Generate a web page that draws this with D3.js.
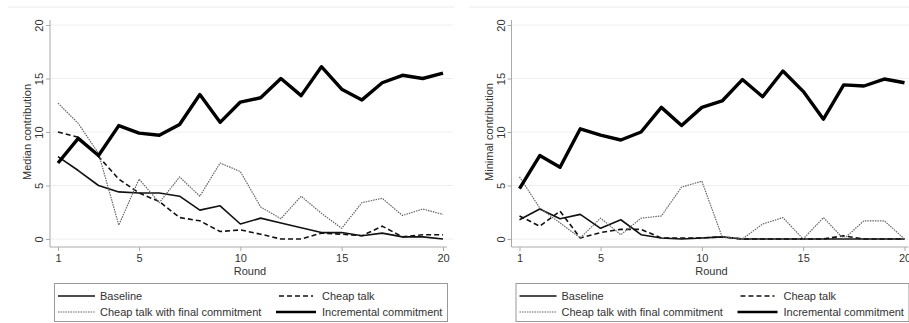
<!DOCTYPE html>
<html>
<head>
<meta charset="utf-8">
<script src="https://cdn.jsdelivr.net/npm/d3@7"></script>
<style>
  body { margin: 0; background: #fff; }
  svg text { font-family: "Liberation Sans", Arial, sans-serif; fill: #333; }
</style>
</head>
<body>
<svg id="chart" width="909" height="323"></svg>
<script>
const rounds = [1,2,3,4,5,6,7,8,9,10,11,12,13,14,15,16,17,18,19,20]
const xTicks = [1, 5, 10, 15, 20]
const yTicks = [0, 5, 10, 15, 20]

// left panel: median contribution
const medBaseline = [7.7,6.4,5.0,4.4,4.3,4.3,4.0,2.7,3.1,1.4,1.95,1.5,1.05,0.6,0.6,0.3,0.55,0.2,0.2,0.0]
const medCheap = [10.0,9.5,7.7,5.6,4.3,3.5,2.0,1.7,0.7,0.85,0.45,0.0,0.0,0.55,0.45,0.3,1.2,0.2,0.4,0.4]
const medFinal = [12.7,10.8,8.0,1.3,5.6,3.4,5.8,4.0,7.1,6.3,3.0,1.9,4.0,2.4,1.0,3.4,3.8,2.2,2.8,2.3]
const medIncr = [7.1,9.4,7.8,10.6,9.9,9.7,10.7,13.5,10.9,12.8,13.2,15.0,13.4,16.1,14.0,13.0,14.6,15.3,15.0,15.5]

// right panel: minimal contribution
const minBaseline = [1.8,2.8,1.9,2.3,1.0,1.8,0.4,0.1,0.0,0.1,0.2,0,0,0,0,0,0,0,0,0]
const minCheap = [2.15,1.2,2.6,0.1,0.6,0.9,0.9,0.1,0.1,0.1,0.2,0,0,0,0,0,0.3,0,0,0]
const minFinal = [5.8,2.9,1.5,0.1,1.95,0.4,1.95,2.15,4.85,5.4,0.2,0.0,1.4,2.0,0.0,2.0,0.0,1.7,1.7,0.0]
const minIncr = [4.7,7.8,6.7,10.3,9.7,9.25,10.0,12.3,10.6,12.3,12.9,14.9,13.3,15.7,13.8,11.2,14.4,14.3,14.95,14.6]

const seriesNames = ["Baseline", "Cheap talk", "Cheap talk with final commitment", "Incremental commitment"]
const styles = {
  "Baseline": {stroke: "#111", width: 1.6, dash: null},
  "Cheap talk": {stroke: "#111", width: 1.6, dash: "5,3"},
  "Cheap talk with final commitment": {stroke: "#666", width: 1.2, dash: "1.5,1"},
  "Incremental commitment": {stroke: "#000", width: 3.4, dash: null}
}

const svg = d3.select('#chart')

function drawPanel(offsetX, values, yLabel) {
  const g = svg.append('g').attr('transform', `translate(${offsetX},0)`)

  const x = d3.scaleLinear().domain([1, 20]).range([58, 443])
  const y = d3.scaleLinear().domain([0, 20]).range([239, 25])

  // graph region top edge
  g.append('line')
    .attr('x1', 8).attr('x2', 454).attr('y1', 7).attr('y2', 7)
    .attr('stroke', '#eaeaea')

  // grid
  g.selectAll('.grid')
    .data(yTicks)
    .enter()
    .append('line')
    .attr('x1', 50).attr('x2', 453)
    .attr('y1', d => y(d)).attr('y2', d => y(d))
    .attr('stroke', '#eeeeee')

  // y axis
  const yAxis = g.append('g')
    .attr('transform', 'translate(50,0)')
    .call(d3.axisLeft(y).tickValues(yTicks).tickSize(4).tickPadding(4))
  yAxis.select('.domain').attr('d', 'M0,20V247').attr('stroke', '#aaa')
  yAxis.selectAll('.tick line').attr('stroke', '#aaa')
  yAxis.selectAll('.tick text')
    .attr('x', null).attr('dy', null)
    .attr('transform', 'translate(-7,0) rotate(-90)')
    .attr('text-anchor', 'middle')
    .style('font-size', '11px')

  // x axis
  const xAxis = g.append('g')
    .attr('transform', 'translate(0,247)')
    .call(d3.axisBottom(x).tickValues(xTicks).tickSize(4).tickPadding(3))
  xAxis.select('.domain').attr('d', 'M50,0H447').attr('stroke', '#aaa')
  xAxis.selectAll('.tick line').attr('stroke', '#aaa')
  xAxis.selectAll('.tick text').style('font-size', '11px')

  g.append('text')
    .attr('x', 250).attr('y', 275)
    .attr('text-anchor', 'middle')
    .style('font-size', '11px')
    .text('Round')

  g.append('text')
    .attr('transform', 'translate(31,132) rotate(-90)')
    .attr('text-anchor', 'middle')
    .style('font-size', '11px')
    .text(yLabel)

  const line = d3.line()
    .x((d, i) => x(rounds[i]))
    .y(d => y(d))

  seriesNames.forEach((name, k) => {
    const st = styles[name]
    g.append('path')
      .datum(values[k])
      .attr('d', line)
      .attr('fill', 'none')
      .attr('stroke', st.stroke)
      .attr('stroke-width', st.width)
      .attr('stroke-dasharray', st.dash)
      .attr('stroke-linejoin', 'round')
  })

  // legend
  const lg = g.append('g')
  lg.append('rect')
    .attr('x', 54.5).attr('y', 283.5).attr('width', 393).attr('height', 38)
    .attr('fill', '#fff').attr('stroke', '#999')

  const cols = [
    {kx1: 58, kx2: 95, tx: 100},
    {kx1: 276, kx2: 316, tx: 322}
  ]
  const rowY = [296, 312]
  const items = [
    {name: "Baseline", col: 0, row: 0},
    {name: "Cheap talk", col: 1, row: 0},
    {name: "Cheap talk with final commitment", col: 0, row: 1},
    {name: "Incremental commitment", col: 1, row: 1}
  ]
  items.forEach(it => {
    const st = styles[it.name]
    const c = cols[it.col]
    const ypos = rowY[it.row]
    const kx1 = it.name === "Cheap talk" ? 279 : c.kx1
    const kx2 = it.name === "Cheap talk" ? 313 : c.kx2
    lg.append('line')
      .attr('x1', kx1).attr('x2', kx2).attr('y1', ypos).attr('y2', ypos)
      .attr('stroke', st.stroke)
      .attr('stroke-width', it.name === "Incremental commitment" ? 2.4 : st.width)
      .attr('stroke-dasharray', st.dash)
    lg.append('text')
      .attr('x', c.tx).attr('y', ypos + 4)
      .style('font-size', '11px')
      .text(it.name)
  })
}

drawPanel(0, [medBaseline, medCheap, medFinal, medIncr], 'Median contribution')
drawPanel(461.5, [minBaseline, minCheap, minFinal, minIncr], 'Minimal contribution')
</script>
</body>
</html>
